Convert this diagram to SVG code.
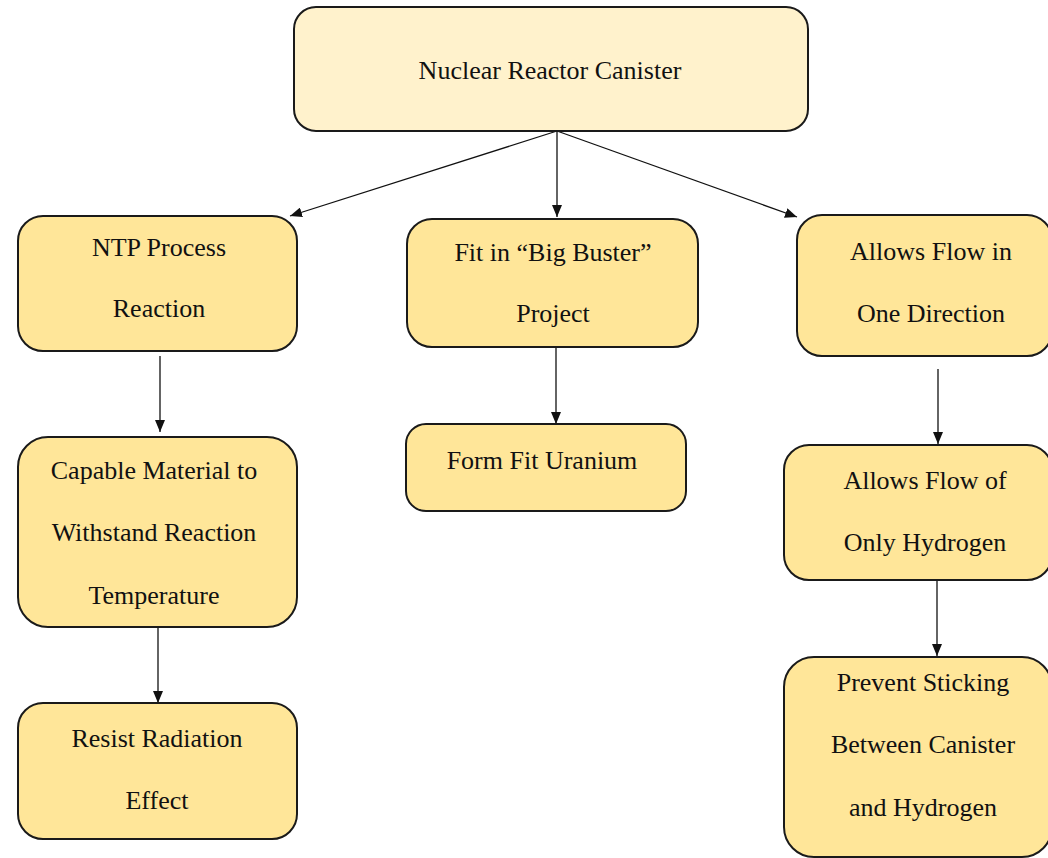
<svg xmlns="http://www.w3.org/2000/svg" width="1048" height="858" viewBox="0 0 1048 858">
  <style>
    .box { fill: #ffe699; stroke: #1a1a1a; stroke-width: 2; }
    .root { fill: #fff2cc; stroke: #1a1a1a; stroke-width: 2; }
    .lbl { font-family: 'Liberation Serif', 'DejaVu Serif', serif; font-size: 26px; fill: #111; text-anchor: middle; }
    .edge { stroke: #111; stroke-width: 1.3; fill: none; marker-end: url(#head); }
  </style>
  <defs>
    <marker id="head" viewBox="0 0 12 10" refX="12" refY="5" markerWidth="12" markerHeight="10" markerUnits="userSpaceOnUse" orient="auto">
      <path d="M0,0 L12,5 L0,10 Z" fill="#111"/>
    </marker>
  </defs>
  <rect width="1048" height="858" fill="#ffffff"/>

  <g id="connectors">
    <line class="edge" x1="557" y1="131" x2="290" y2="216"/>
    <line class="edge" x1="557" y1="131" x2="557" y2="217"/>
    <line class="edge" x1="557" y1="131" x2="797" y2="217"/>
    <line class="edge" x1="160" y1="356" x2="160" y2="432"/>
    <line class="edge" x1="556" y1="348" x2="556" y2="424"/>
    <line class="edge" x1="938" y1="369" x2="938" y2="444"/>
    <line class="edge" x1="158" y1="628" x2="158" y2="703"/>
    <line class="edge" x1="937" y1="581" x2="937" y2="656"/>
  </g>

  <g id="node-canister">
    <rect class="root" x="294" y="7" width="514" height="124" rx="22"/>
    <text class="lbl" x="550" y="79" font-family="Liberation Serif, serif">Nuclear Reactor Canister</text>
  </g>

  <g id="node-ntp">
    <rect class="box" x="18" y="216" width="279" height="135" rx="25"/>
    <text class="lbl" x="159" y="256">NTP Process</text>
    <text class="lbl" x="159" y="317">Reaction</text>
  </g>

  <g id="node-bigbuster">
    <rect class="box" x="407" y="219" width="291" height="128" rx="25"/>
    <text class="lbl" x="553" y="261">Fit in “Big Buster”</text>
    <text class="lbl" x="553" y="322">Project</text>
  </g>

  <g id="node-oneway">
    <rect class="box" x="797" y="215" width="255" height="141" rx="25"/>
    <text class="lbl" x="931" y="260">Allows Flow in</text>
    <text class="lbl" x="931" y="322">One Direction</text>
  </g>

  <g id="node-material">
    <rect class="box" x="18" y="437" width="279" height="190" rx="30"/>
    <text class="lbl" x="154" y="479">Capable Material to</text>
    <text class="lbl" x="154" y="541">Withstand Reaction</text>
    <text class="lbl" x="154" y="604">Temperature</text>
  </g>

  <g id="node-uranium">
    <rect class="box" x="406" y="424" width="280" height="87" rx="20"/>
    <text class="lbl" x="542" y="469">Form Fit Uranium</text>
  </g>

  <g id="node-hydrogen">
    <rect class="box" x="784" y="445" width="268" height="135" rx="25"/>
    <text class="lbl" x="925" y="489">Allows Flow of</text>
    <text class="lbl" x="925" y="551">Only Hydrogen</text>
  </g>

  <g id="node-radiation">
    <rect class="box" x="18" y="703" width="279" height="136" rx="25"/>
    <text class="lbl" x="157" y="747">Resist Radiation</text>
    <text class="lbl" x="157" y="809">Effect</text>
  </g>

  <g id="node-sticking">
    <rect class="box" x="784" y="657" width="268" height="200" rx="30"/>
    <text class="lbl" x="923" y="691">Prevent Sticking</text>
    <text class="lbl" x="923" y="753">Between Canister</text>
    <text class="lbl" x="923" y="816">and Hydrogen</text>
  </g>
</svg>
